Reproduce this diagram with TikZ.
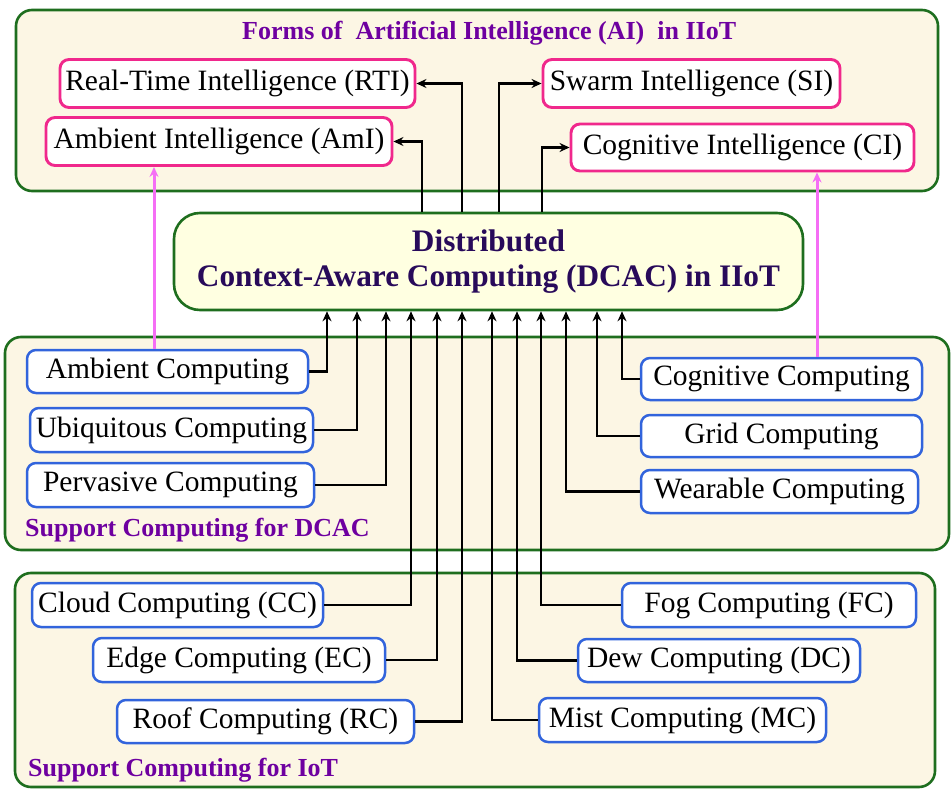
\documentclass[tikz,border=0pt]{standalone}
\usepackage{fontspec}
\setmainfont{Liberation Serif}
\usetikzlibrary{arrows.meta,calc}
\definecolor{cream}{RGB}{252,246,228}
\definecolor{grn}{RGB}{30,110,30}
\definecolor{pnk}{RGB}{240,40,140}
\definecolor{blu}{RGB}{50,100,220}
\definecolor{vio}{RGB}{245,110,245}
\definecolor{ttl}{RGB}{110,0,160}
\definecolor{navy}{RGB}{40,10,90}
\definecolor{dyel}{RGB}{255,255,225}
\tikzset{
  container/.style={draw=grn, line width=2.6pt, fill=cream, rounded corners=16pt, inner sep=0pt},
  aibox/.style={draw=pnk, line width=2.9pt, fill=white, rounded corners=9pt, inner sep=0pt, minimum height=48pt, font=\fontsize{29.5}{31}\selectfont},
  cbox/.style={draw=blu, line width=2.5pt, fill=white, rounded corners=9pt, inner sep=0pt, minimum height=43pt, font=\fontsize{29.5}{31}\selectfont},
  lbl/.style={text=ttl, font=\bfseries\fontsize{26}{28}\selectfont, inner sep=0pt},
  conn/.style={draw=black, line width=2.8pt, -{Stealth[length=10pt,width=9pt]}},
  pconn/.style={draw=vio, line width=3pt, -{Stealth[length=10pt,width=9pt]}}
}
\begin{document}
\begin{tikzpicture}[x=1pt,y=-1pt]
\useasboundingbox (0,0) rectangle (951,789);
\fill[white] (0,0) rectangle (951,789);
% containers
\node[container, minimum width=922pt, minimum height=181pt] (ctop) at (477,100.5) {};
\node[container, minimum width=944pt, minimum height=213pt] (cmid) at (477,443.5) {};
\node[container, minimum width=920pt, minimum height=214pt] (cbot) at (475,680) {};
% labels
\node[lbl, anchor=west] (ttop) at (242,33) {Forms of\ \ Artificial Intelligence (AI)\ \ in IIoT};
\node[lbl, anchor=west] (tmid) at (25,530) {Support Computing for DCAC};
\node[lbl, anchor=west] (tbot) at (28,770) {Support Computing for IoT};
% AI boxes
\node[aibox, minimum width=355pt] (rti) at (237.5,83.5) {Real-Time Intelligence (RTI)};
\node[aibox, minimum width=346pt] (ami) at (219,141.5) {Ambient Intelligence (AmI)};
\node[aibox, minimum width=297pt] (si) at (691.5,83.5) {Swarm Intelligence (SI)};
\node[aibox, minimum width=343pt, minimum height=47pt] (ci) at (742.5,147.5) {Cognitive Intelligence (CI)};
% DCAC
\node[draw=grn, line width=2.6pt, fill=dyel, rounded corners=26pt, minimum width=629pt, minimum height=97pt, inner sep=0pt,
      align=center, text=navy, font=\bfseries\fontsize{31.3}{35}\selectfont] (dcac) at (488.5,261.5)
  {Distributed\\Context-Aware Computing (DCAC) in IIoT};
% support computing boxes
\node[cbox, minimum width=281pt] (amb) at (167.5,371.5) {Ambient Computing};
\node[cbox, minimum width=283pt, minimum height=44pt] (ubi) at (171.5,430) {Ubiquitous Computing};
\node[cbox, minimum width=287pt, minimum height=44pt] (per) at (170.5,485) {Pervasive Computing};
\node[cbox, minimum width=281pt, minimum height=42pt] (cog) at (781.5,379) {Cognitive Computing};
\node[cbox, minimum width=281pt, minimum height=42pt] (grid) at (781.5,436) {Grid Computing};
\node[cbox, minimum width=277pt] (wear) at (779.5,491.5) {Wearable Computing};
% IoT boxes
\node[cbox, minimum width=291pt, minimum height=44pt] (cc) at (177.5,605) {Cloud Computing (CC)};
\node[cbox, minimum width=292pt, minimum height=44pt] (ec) at (239,660) {Edge Computing (EC)};
\node[cbox, minimum width=297pt] (rc) at (265.5,721.5) {Roof Computing (RC)};
\node[cbox, minimum width=294pt, minimum height=44pt] (fc) at (769,605) {Fog Computing (FC)};
\node[cbox, minimum width=282pt] (dc) at (719,660.5) {Dew Computing (DC)};
\node[cbox, minimum width=287pt, minimum height=44pt] (mc) at (682.5,720) {Mist Computing (MC)};
% upward connectors to DCAC
\draw[conn] (amb.east) -| (327,0 |- dcac.south);
\draw[conn] (ubi.east) -| (357,0 |- dcac.south);
\draw[conn] (per.east) -| (386,0 |- dcac.south);
\draw[conn] (cc.east) -| (411,0 |- dcac.south);
\draw[conn] (ec.east) -| (437,0 |- dcac.south);
\draw[conn] (rc.east) -| (462,0 |- dcac.south);
\draw[conn] (mc.west) -| (492,0 |- dcac.south);
\draw[conn] (dc.west) -| (517,0 |- dcac.south);
\draw[conn] (fc.west) -| (541,0 |- dcac.south);
\draw[conn] (wear.west) -| (566,0 |- dcac.south);
\draw[conn] (grid.west) -| (597,0 |- dcac.south);
\draw[conn] (cog.west) -| (622,0 |- dcac.south);
% DCAC to AI forms
\draw[conn] (422,0 |- dcac.north) |- (ami.east);
\draw[conn] (462,0 |- dcac.north) |- (rti.east);
\draw[conn] (499,0 |- dcac.north) |- (si.west);
\draw[conn] (542,0 |- dcac.north) |- (ci.west);
% pink links
\draw[pconn] (154,0 |- amb.north) -- (154,0 |- ami.south);
\draw[pconn] (817,0 |- cog.north) -- (817,0 |- ci.south);
\end{tikzpicture}
\end{document}
